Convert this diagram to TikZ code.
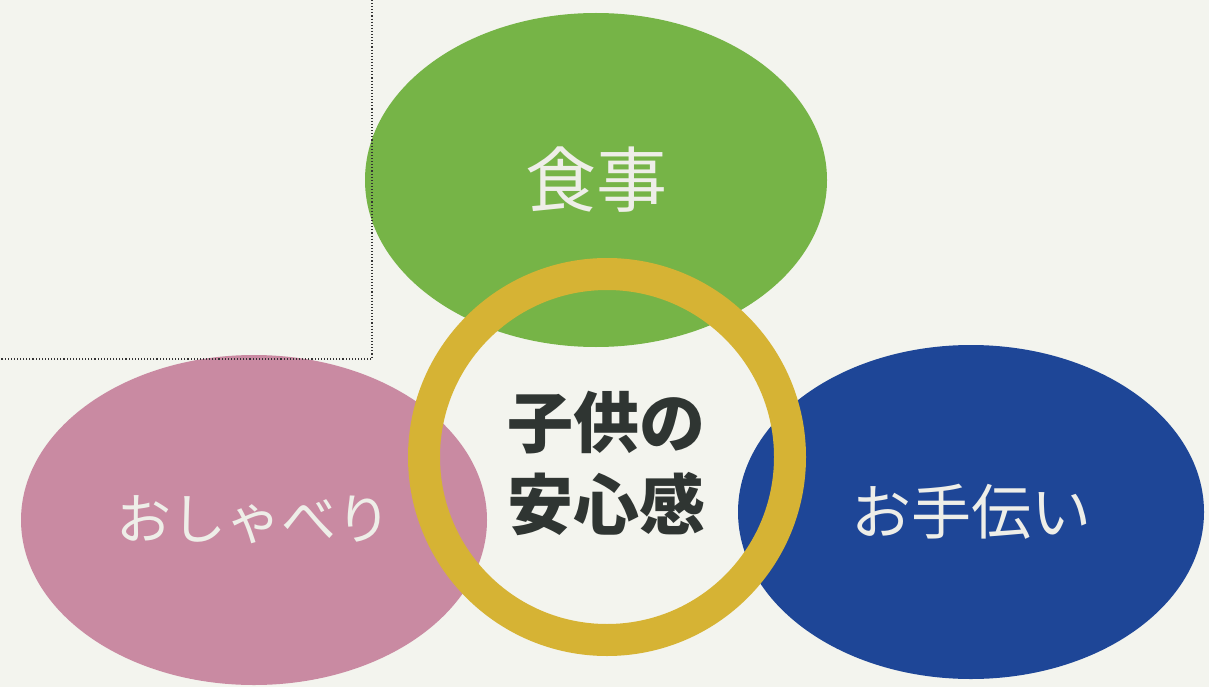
\documentclass[tikz,border=0pt]{standalone}
\usepackage{fontspec}
\setmainfont{Noto Sans CJK JP}
\usetikzlibrary{shapes.geometric}
\definecolor{bgpaper}{HTML}{F3F4EE}
\definecolor{leafgreen}{HTML}{76B447}
\definecolor{rosepink}{HTML}{C98AA2}
\definecolor{deepblue}{HTML}{1E4697}
\definecolor{ringgold}{HTML}{D6B334}
\definecolor{labelwhite}{HTML}{EEEEE8}
\definecolor{centertext}{HTML}{2F3532}
\tikzset{
  blob/.style={ellipse, inner sep=0pt, text=labelwhite,
    font=\fontsize{60}{72}\selectfont},
  ringstyle/.style={circle, draw=ringgold, line width=32pt, inner sep=0pt,
    minimum size=366pt},
  borderline/.style={black!80, line width=1.1pt, dotted},
  maintext/.style={align=center, text=centertext, inner sep=0pt,
    font=\fontsize{66}{82}\selectfont\bfseries}
}
\begin{document}
\begin{tikzpicture}[x=1pt,y=-1pt]
\useasboundingbox (0,0) rectangle (1209,687);
\fill[bgpaper] (0,0) rectangle (1209,687);
\node[blob, fill=leafgreen, minimum width=462pt, minimum height=334pt,
  font=\fontsize{71}{80}\selectfont] (food) at (596,180) {食事};
\node[blob, fill=rosepink, minimum width=466pt, minimum height=330pt,
  font=\fontsize{55}{66}\selectfont] (talk) at (254,520) {おしゃべり};
\node[blob, fill=deepblue, minimum width=466pt, minimum height=334pt] (help) at (971,512) {お手伝い};
\coordinate (bx) at (372,0);
\coordinate (bc) at (372,359);
\coordinate (by) at (0,359);
\draw[borderline] (bx) -- (bc) -- (by);
\node[ringstyle] (ring) at (607,457) {};
\node[maintext] (core) at (606,463) {子供の\\安心感};
\end{tikzpicture}
\end{document}
